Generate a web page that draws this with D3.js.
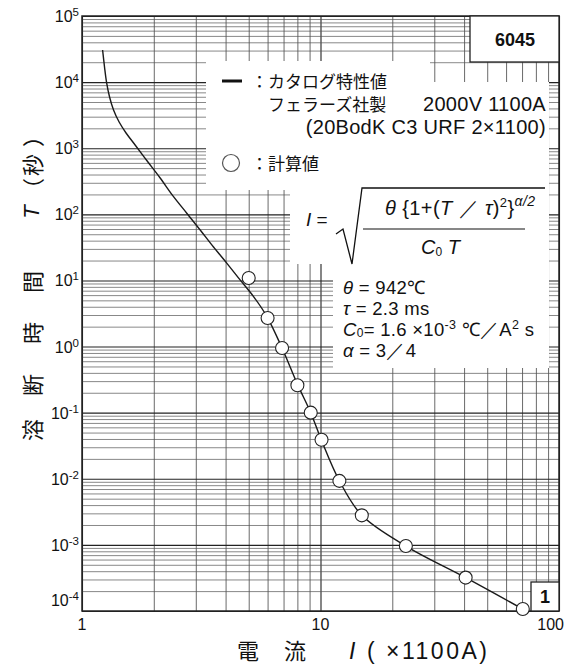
<!DOCTYPE html>
<html><head><meta charset="utf-8">
<script src="https://cdn.jsdelivr.net/npm/d3@7"></script>
<style>
body{margin:0;background:#fff}
text{font-family:"Liberation Sans",Arial,sans-serif;fill:#111}
</style>
</head><body>
<svg id="chart" width="566" height="668"></svg>
<script>
// Melting time T versus current I for the fuse (log-log)
const catalogCurrent = [1.22, 1.243, 1.267, 1.305, 1.356, 1.431, 1.53, 1.67, 1.876, 2.127, 2.42, 2.75, 3.13, 3.56, 4.06, 4.61, 5.24, 5.97, 6.9, 8.0, 9.1, 10.1, 12.0, 14.9, 22.8, 40.6, 70.5];
const catalogTime    = [30600, 16900, 10030, 5950, 3780, 2490, 1700, 1120, 640, 354, 185, 104, 58, 32, 18, 10.1, 5.7, 2.82, 0.95, 0.27, 0.10, 0.038, 0.0093, 0.0028, 0.00096, 0.00032, 0.000107];
const calcCurrent = [5.0, 6.0, 6.9, 8.0, 9.1, 10.1, 12.0, 14.9, 22.8, 40.6, 70.5];
const calcTime    = [10.9, 2.7, 0.95, 0.26, 0.10, 0.039, 0.0093, 0.0028, 0.00096, 0.00032, 0.000107];
const xTickValues = [1, 10, 100];
const xTickLabels = ["1", "10", "100"];
const yTickExponents = [5, 4, 3, 2, 1, 0, -1, -2, -3, -4];

const JP = "'Noto Sans CJK JP', sans-serif";
const svg = d3.select("#chart");
const L = 82, R = 559, T = 16, B = 611;

const x = d3.scaleLog().domain([1, 100]).range([L, R]);
const y = d3.scaleLog().domain([1e-4, 1e5]).range([B, T]);

// graph-paper grid: 1..9 in every decade
const gridX = [];
for (const d of [1, 10]) for (let k = 1; k <= 9; k++) gridX.push(k * d);
gridX.push(100);
const gridY = [];
for (let e = -4; e <= 4; e++) for (let k = 1; k <= 9; k++) gridY.push(k * Math.pow(10, e));
gridY.push(1e5);

const isDecade = v => Math.abs(Math.log10(v) - Math.round(Math.log10(v))) < 1e-9;

const gx = svg.append("g").attr("transform", `translate(0,${B})`)
  .call(d3.axisBottom(x).tickValues(gridX).tickSize(-(B - T)).tickFormat(""));
gx.select(".domain").remove();
gx.selectAll("line").attr("stroke", d => isDecade(d) ? "#222" : "#444")
  .attr("stroke-width", d => isDecade(d) ? 1.1 : 0.8);

const gy = svg.append("g").attr("transform", `translate(${L},0)`)
  .call(d3.axisLeft(y).tickValues(gridY).tickSize(-(R - L)).tickFormat(""));
gy.select(".domain").remove();
gy.selectAll("line").attr("stroke", d => isDecade(d) ? "#222" : "#555")
  .attr("stroke-width", d => isDecade(d) ? 1.1 : 0.7);

// white panels carrying the legend and the formula
const panels = [
  [206, 61, 430, 190], [430, 82, 549, 190],
  [290, 188, 549, 264], [333, 262, 549, 368]
];
svg.selectAll("rect.panel").data(panels).join("rect").attr("class", "panel")
  .attr("x", d => d[0]).attr("y", d => d[1])
  .attr("width", d => d[2] - d[0]).attr("height", d => d[3] - d[1])
  .attr("fill", "#fff");

// frame
svg.append("rect").attr("x", L).attr("y", T).attr("width", R - L).attr("height", B - T)
  .attr("fill", "none").attr("stroke", "#222").attr("stroke-width", 1.5);

// catalog curve
const pts = catalogCurrent.map((c, i) => [c, catalogTime[i]]);
svg.append("path").datum(pts)
  .attr("d", d3.line().x(d => x(d[0])).y(d => y(d[1])).curve(d3.curveCatmullRom.alpha(0.5)))
  .attr("fill", "none").attr("stroke", "#1a1a1a").attr("stroke-width", 1.4);

// calculated points
svg.selectAll("circle.calc").data(calcCurrent.map((c, i) => [c, calcTime[i]])).join("circle")
  .attr("class", "calc").attr("cx", d => x(d[0])).attr("cy", d => y(d[1])).attr("r", 6.5)
  .attr("fill", "#fff").attr("stroke", "#222").attr("stroke-width", 1.1);

// y tick labels 10^n
yTickExponents.forEach(e => {
  const yy = e === -4 ? B - 11 : y(Math.pow(10, e));
  const t = svg.append("text").attr("x", 79).attr("y", yy + 6).attr("text-anchor", "end")
    .style("font-size", "16px");
  t.append("tspan").text("10");
  t.append("tspan").attr("dy", -6).style("font-size", "11.5px").text(String(e));
});

// x tick labels
xTickValues.forEach((v, i) => {
  const last = i === xTickValues.length - 1;
  svg.append("text").attr("x", last ? R + 5 : x(v)).attr("y", 630)
    .attr("text-anchor", last ? "end" : "middle")
    .style("font-size", "16px").text(xTickLabels[i]);
});

// x axis title
const xt = svg.append("text").attr("y", 659);
xt.append("tspan").attr("x", 237).style("font-family", JP).style("font-size", "22px").text("電");
xt.append("tspan").attr("x", 284).style("font-family", JP).style("font-size", "22px").text("流");
xt.append("tspan").attr("x", 349).style("font-size", "23px").style("font-style", "italic").text("I");
xt.append("tspan").attr("x", 367).style("font-size", "23px").style("letter-spacing", "2.5px").text("( ×1100A)");

// y axis title (rotated)
const yt = svg.append("text").attr("transform", "translate(31,0) rotate(-90)")
  .attr("text-anchor", "middle").attr("dominant-baseline", "central").style("font-size", "22px");
[["溶", 430], ["断", 385], ["時", 333], ["間", 282]].forEach(([c, p]) =>
  yt.append("tspan").attr("x", -p).style("font-family", JP).text(c));
yt.append("tspan").attr("x", -212).style("font-style", "italic").text("T");
[["（", 189], ["秒", 165], ["）", 136]].forEach(([c, p]) =>
  yt.append("tspan").attr("x", -p).style("font-family", JP).text(c));

// id boxes
svg.append("rect").attr("x", 470).attr("y", 16).attr("width", 89).attr("height", 46)
  .attr("fill", "#fff").attr("stroke", "#222").attr("stroke-width", 1.3);
svg.append("text").attr("x", 515).attr("y", 46).attr("text-anchor", "middle")
  .style("font-size", "18px").style("font-weight", "bold").text("6045");
svg.append("rect").attr("x", 531).attr("y", 582).attr("width", 28).attr("height", 29)
  .attr("fill", "#fff").attr("stroke", "#222").attr("stroke-width", 1.3);
svg.append("text").attr("x", 545).attr("y", 603).attr("text-anchor", "middle")
  .style("font-size", "18px").style("font-weight", "bold").text("1");

// legend
svg.append("line").attr("x1", 222).attr("x2", 242).attr("y1", 81).attr("y2", 81)
  .attr("stroke", "#111").attr("stroke-width", 3);
svg.append("text").attr("x", 251).attr("y", 88).style("font-size", "17px")
  .style("font-family", JP).text("：カタログ特性値");
svg.append("text").attr("x", 268).attr("y", 111).style("font-size", "17px")
  .style("font-family", JP).text("フェラーズ社製");
svg.append("text").attr("x", 546).attr("y", 111).attr("text-anchor", "end")
  .style("font-size", "20px").style("letter-spacing", "0.3px").text("2000V 1100A");
svg.append("text").attr("x", 546).attr("y", 134).attr("text-anchor", "end")
  .style("font-size", "20px").style("letter-spacing", "0.3px").text("(20BodK C3 URF 2×1100)");
svg.append("circle").attr("cx", 231).attr("cy", 163).attr("r", 8.5)
  .attr("fill", "#fff").attr("stroke", "#555").attr("stroke-width", 1.2);
svg.append("text").attr("x", 251).attr("y", 170).style("font-size", "17px")
  .style("font-family", JP).text("：計算値");

// formula
const fi = svg.append("text").attr("x", 306).attr("y", 226).style("font-size", "19px");
fi.append("tspan").style("font-style", "italic").text("I");
fi.append("tspan").text(" =");
svg.append("path").attr("d", "M336,234 L343,229 L352,264 L362,188 L545,188")
  .attr("fill", "none").attr("stroke", "#111").attr("stroke-width", 1.3);
const num = svg.append("text").attr("x", 385).attr("y", 215).style("font-size", "20px")
  .style("letter-spacing", "0.4px");
num.append("tspan").style("font-style", "italic").text("θ");
num.append("tspan").text(" {1+(");
num.append("tspan").style("font-style", "italic").text("T");
num.append("tspan").text(" ／ ");
num.append("tspan").style("font-style", "italic").text("τ");
num.append("tspan").text(")");
num.append("tspan").attr("dy", -8).style("font-size", "13px").text("2");
num.append("tspan").attr("dy", 8).text("}");
num.append("tspan").attr("dy", -9).style("font-size", "14px").style("font-style", "italic").text("α/2");
svg.append("line").attr("x1", 363).attr("x2", 525).attr("y1", 229).attr("y2", 229)
  .attr("stroke", "#111").attr("stroke-width", 1.2);
const den = svg.append("text").attr("x", 421).attr("y", 254).style("font-size", "20px");
den.append("tspan").style("font-style", "italic").text("C");
den.append("tspan").attr("dy", 2).style("font-size", "12px").text("0");
den.append("tspan").attr("dy", -2).text(" ");
den.append("tspan").style("font-style", "italic").text("T");

// parameters
const params = svg.append("g").style("font-size", "18.5px").style("letter-spacing", "0.3px");
const p1 = params.append("text").attr("x", 343).attr("y", 294);
p1.append("tspan").style("font-style", "italic").text("θ");
p1.append("tspan").text(" = 942℃");
const p2 = params.append("text").attr("x", 343).attr("y", 315);
p2.append("tspan").style("font-style", "italic").text("τ");
p2.append("tspan").text(" = 2.3 ms");
const p3 = params.append("text").attr("x", 343).attr("y", 336);
p3.append("tspan").style("font-style", "italic").text("C");
p3.append("tspan").attr("dy", 1).style("font-size", "12px").text("0");
p3.append("tspan").attr("dy", -1).text("= 1.6  ×10");
p3.append("tspan").attr("dy", -7).style("font-size", "12.5px").text("-3");
p3.append("tspan").attr("dy", 7).text(" ℃／A");
p3.append("tspan").attr("dy", -7).style("font-size", "12.5px").text("2");
p3.append("tspan").attr("dy", 7).text(" s");
const p4 = params.append("text").attr("x", 343).attr("y", 357);
p4.append("tspan").style("font-style", "italic").text("α");
p4.append("tspan").text(" = 3／4");
</script>
</body></html>
